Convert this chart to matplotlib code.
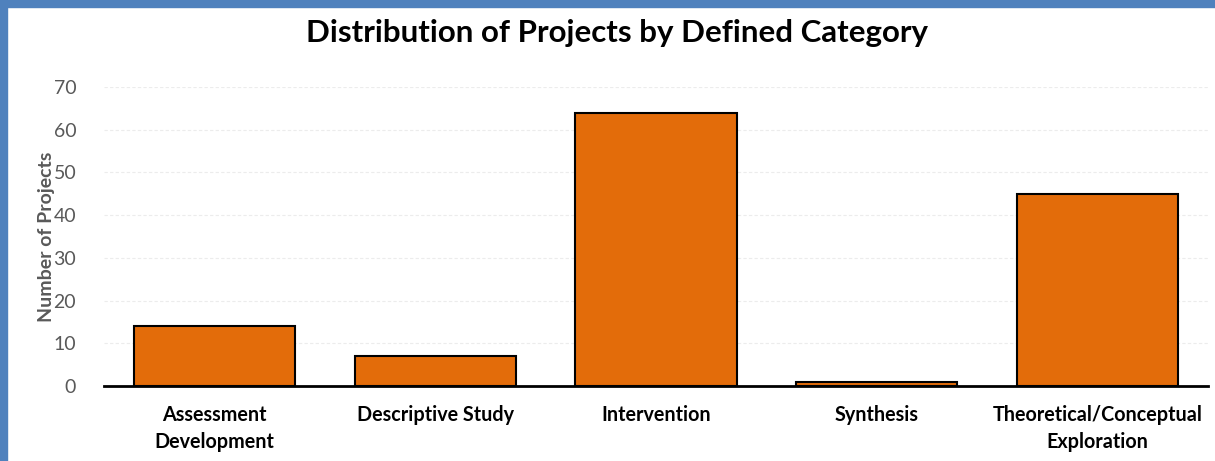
import matplotlib.pyplot as plt
from matplotlib.patches import Rectangle

# Data
categories = ['Assessment\nDevelopment', 'Descriptive Study', 'Intervention',
              'Synthesis', 'Theoretical/Conceptual\nExploration']
counts = [14, 7, 64, 1, 45]
yticks = [0, 10, 20, 30, 40, 50, 60, 70]

plt.rcParams['font.family'] = ['Lato', 'DejaVu Sans']

fig = plt.figure(figsize=(12.15, 4.61), dpi=100)
ax = fig.add_axes([0.0856, 0.1627, 0.9086, 0.6486])

x = range(len(categories))
ax.bar(x, counts, width=0.73, color='#E36C0A', edgecolor='black',
       linewidth=1.5, zorder=3)

ax.set_xlim(-0.5, len(categories) - 0.5)
ax.set_ylim(0, 70)
ax.set_yticks(yticks)
ax.set_xticks(list(x))
ax.set_xticklabels(categories, fontsize=14.2, fontweight='bold', color='black',
                   linespacing=1.45)
ax.tick_params(axis='y', labelsize=14, colors='#595959', length=0, pad=20)
ax.tick_params(axis='x', length=0, pad=13.5)

ax.grid(axis='y', color='#ececec', linestyle=(0, (3, 2)), linewidth=0.8, zorder=0)
for side in ['top', 'right', 'left']:
    ax.spines[side].set_visible(False)
ax.spines['bottom'].set_linewidth(2)
ax.spines['bottom'].set_zorder(4)

ax.set_ylabel('Number of Projects', fontsize=14, fontweight='bold',
              color='#595959', labelpad=-1)

fig.text(0.508, 0.928, 'Distribution of Projects by Defined Category',
         ha='center', va='center', fontsize=22.5, fontweight='bold')

# blue selection border on top and left edges
fig.patches.append(Rectangle((0, 1 - 7 / 461), 1, 7 / 461, transform=fig.transFigure,
                             color='#4F81BD', zorder=10))
fig.patches.append(Rectangle((0, 0), 7 / 1215, 1, transform=fig.transFigure,
                             color='#4F81BD', zorder=10))

fig.savefig('out.png', dpi=100)
